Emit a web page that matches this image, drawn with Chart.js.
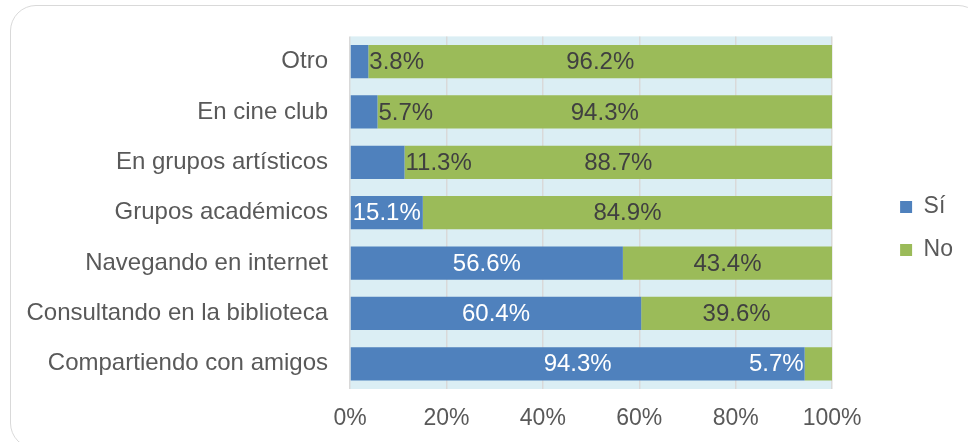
<!DOCTYPE html>
<html>
<head>
<meta charset="utf-8">
<script src="https://cdn.jsdelivr.net/npm/chart.js@4/dist/chart.umd.min.js"></script>
<style>
  html, body { margin: 0; padding: 0; background: #fff; overflow: hidden; }
  #wrap { position: relative; width: 968px; height: 442px; overflow: hidden; }
  #frame { position: absolute; left: 10px; top: 5px; width: 972px; height: 442px;
           border: 1.5px solid #d9d9d9; border-radius: 26px; pointer-events: none; }
  canvas { position: absolute; left: 0; top: 0; }
</style>
</head>
<body>
<div id="wrap">
  <canvas id="chart" width="968" height="442"></canvas>
  <div id="frame"></div>
</div>
<script>
var categories = ["Otro", "En cine club", "En grupos artísticos", "Grupos académicos",
                  "Navegando en internet", "Consultando en la biblioteca", "Compartiendo con amigos"];
var si_values = [3.8, 5.7, 11.3, 15.1, 56.6, 60.4, 94.3];
var no_values = [96.2, 94.3, 88.7, 84.9, 43.4, 39.6, 5.7];
var series_names = ["Sí", "No"];
var x_ticks = [0, 20, 40, 60, 80, 100];

// where each value label sits: c = centered, a = just after bar end, b = just before bar start
var si_label_pos = ["a", "a", "a", "c", "c", "c", "c"];
var no_label_pos = ["c", "c", "c", "c", "c", "c", "b"];
var si_label_color = ["#404040", "#404040", "#404040", "#fff", "#fff", "#fff", "#fff"];
var no_label_color = ["#404040", "#404040", "#404040", "#404040", "#404040", "#404040", "#fff"];

var FONT = "'Liberation Sans', Arial, sans-serif";

var plotBg = {
  id: "plotBg",
  beforeDraw: function(chart) {
    var a = chart.chartArea, ctx = chart.ctx;
    ctx.save();
    ctx.fillStyle = "#dbeef4";
    ctx.fillRect(a.left, a.top, a.right - a.left, a.bottom - a.top);
    ctx.restore();
  }
};

var valueLabels = {
  id: "valueLabels",
  afterDatasetsDraw: function(chart) {
    var ctx = chart.ctx;
    var pos = [si_label_pos, no_label_pos];
    var col = [si_label_color, no_label_color];
    ctx.save();
    ctx.font = "24px " + FONT;
    ctx.textBaseline = "middle";
    chart.data.datasets.forEach(function(ds, di) {
      var meta = chart.getDatasetMeta(di);
      meta.data.forEach(function(bar, i) {
        var txt = ds.data[i].toFixed(1) + "%";
        var p = pos[di][i];
        var x;
        if (p == "a") { ctx.textAlign = "left"; x = bar.x + 1; }
        else if (p == "b") { ctx.textAlign = "right"; x = bar.base - 1; }
        else { ctx.textAlign = "center"; x = (bar.x + bar.base) / 2; }
        ctx.fillStyle = col[di][i];
        ctx.fillText(txt, x, bar.y + 1);
      });
    });
    ctx.restore();
  }
};

// empty axes, they only hold space around the plot
function spacer(axisName, position, size) {
  return {
    axis: axisName, position: position, display: true,
    type: axisName == "x" ? "linear" : "category",
    afterFit: function(axis) {
      if (axisName == "x") axis.height = size; else axis.width = size;
    },
    ticks: { display: false },
    grid: { display: false, drawTicks: false },
    border: { display: false }
  };
}

var ctx = document.getElementById("chart");
var chart = new Chart(ctx, {
  type: "bar",
  data: {
    labels: categories,
    datasets: [
      { label: series_names[0], data: si_values, backgroundColor: "#4f81bd",
        xAxisID: "x", yAxisID: "y", categoryPercentage: 1, barPercentage: 0.66 },
      { label: series_names[1], data: no_values, backgroundColor: "#9bbb59",
        xAxisID: "x", yAxisID: "y", categoryPercentage: 1, barPercentage: 0.66 }
    ]
  },
  options: {
    indexAxis: "y",
    responsive: false,
    animation: false,
    layout: { padding: { top: 15, right: 5, left: 0, bottom: 0 } },
    scales: {
      x: {
        stacked: true, min: 0, max: 100,
        afterBuildTicks: function(axis) {
          axis.ticks = x_ticks.map(function(v) { return { value: v }; });
        },
        afterFit: function(axis) { axis.height = 53; },
        ticks: { color: "#595959", font: { family: FONT, size: 23 }, padding: 16,
                 callback: function(v) { return v + "%"; } },
        grid: { color: "#d9d9d9", lineWidth: 1.5, drawTicks: false },
        border: { display: false }
      },
      y: {
        stacked: true,
        afterFit: function(axis) { axis.width = 350; },
        ticks: { color: "#595959", font: { family: FONT, size: 24 }, padding: 22 },
        grid: { display: false, drawTicks: false },
        border: { display: false }
      },
      topGap: spacer("x", "top", 21),
      rightGap: spacer("y", "right", 48)
    },
    plugins: {
      legend: {
        position: "right",
        labels: { color: "#595959", font: { family: FONT, size: 23 },
                  boxWidth: 12, boxHeight: 12, padding: 20 }
      },
      tooltip: { enabled: false }
    }
  },
  plugins: [plotBg, valueLabels]
});
</script>
</body>
</html>
